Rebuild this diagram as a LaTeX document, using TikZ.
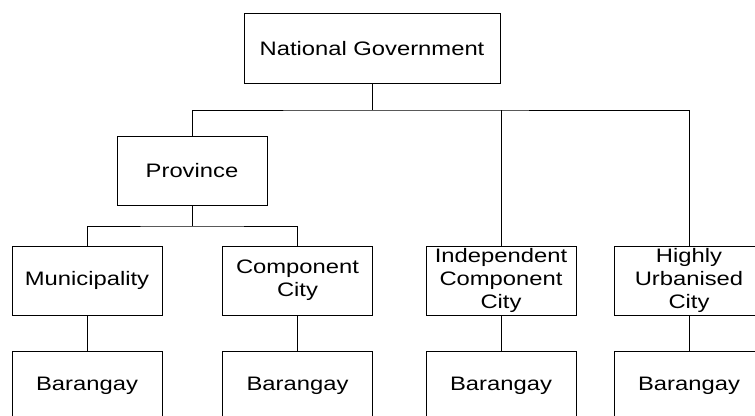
\documentclass[tikz,border=0pt]{standalone}
\usepackage{fontspec}
\setmainfont{Liberation Sans}[FakeStretch=1.22]
\begin{document}
\begin{tikzpicture}[x=1pt,y=-1pt,
  unit/.style={draw=black, line width=0.9pt, fill=white, align=center,
    inner sep=0pt, font=\fontsize{19.5}{22.8}\selectfont},
  wide/.style={unit, minimum width=256pt, minimum height=70pt},
  stdbox/.style={unit, minimum width=150pt, minimum height=69pt},
  link/.style={draw=black, line width=0.9pt}]
\useasboundingbox (0,0) rectangle (755,415);
\clip (0,0) rectangle (755,415);

% levels of government
\node[wide]   (nat)  at (372,48.5)  {National Government};
\node[stdbox] (prov) at (192,170.5) {Province};
\node[stdbox] (mun)  at (87,280.5)  {Municipality};
\node[stdbox] (cc)   at (297.5,280.5) {Component\\City};
\node[stdbox] (icc)  at (501,280.5) {Independent\\Component\\City};
\node[stdbox] (huc)  at (689,280.5) {Highly\\Urbanised\\City};

% barangays under each local unit
\node[stdbox] (b1) at (87,385.5)    {Barangay};
\node[stdbox] (b2) at (297.5,385.5) {Barangay};
\node[stdbox] (b3) at (501,385.5)   {Barangay};
\node[stdbox] (b4) at (689,385.5)   {Barangay};

% branching buses
\coordinate (busA) at (372,110);
\coordinate (busB) at (192,226);

\draw[link] (nat.south) -- (busA);
\draw[link] (prov.north) |- (busA) -| (huc.north);
\draw[link] (icc.north) -- (icc.north |- busA);

\draw[link] (prov.south) -- (busB);
\draw[link] (mun.north) |- (busB) -| (cc.north);

\draw[link] (mun.south) -- (b1.north);
\draw[link] (cc.south)  -- (b2.north);
\draw[link] (icc.south) -- (b3.north);
\draw[link] (huc.south) -- (b4.north);
\end{tikzpicture}
\end{document}
